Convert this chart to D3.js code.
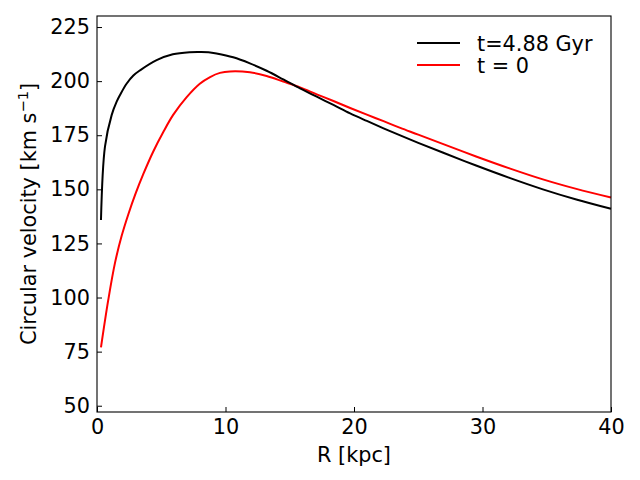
<!DOCTYPE html>
<html>
<head>
<meta charset="utf-8">
<script src="https://cdn.jsdelivr.net/npm/d3@7"></script>
<style>
  body { margin: 0; background: #fff; }
  text { font-family: "DejaVu Sans", sans-serif; fill: #000; }
</style>
</head>
<body>
<div id="chart"></div>
<script>
// Rotation curve (R in kpc, v in km/s)
const rNow = [0.31, 0.62, 1.14, 1.53, 1.79, 2.3, 2.83, 3.35, 4.64, 5.9, 7.2, 8.0, 8.67, 9.3, 10.6, 11.9, 13.2, 14.5, 15.8, 17.1, 18.4, 19.7, 21.0, 22.3, 23.6, 25.0, 26.9, 29.5, 32.1, 34.7, 37.3, 40];
const vNow = [135.8, 169.7, 184.3, 190.5, 193.6, 198.8, 202.6, 205, 209.7, 212.4, 213.4, 213.5, 213.4, 212.8, 211, 208.2, 204.8, 200.8, 196.7, 192.8, 189, 185.1, 181.6, 178.2, 174.9, 171.5, 167.0, 161.0, 155.3, 150.0, 145.3, 141];

const rInit = [0.31, 0.88, 1.4, 1.92, 2.44, 3.0, 3.6, 4.38, 5.16, 5.94, 6.98, 8.0, 8.8, 9.57, 10.35, 11.9, 13.2, 14.5, 15.8, 17.1, 18.4, 19.7, 21.0, 22.3, 23.6, 25.0, 26.9, 29.5, 32.1, 34.7, 37.3, 40];
const vInit = [77, 99, 116, 128.5, 138.5, 148, 157, 167.5, 176.5, 184.5, 192.6, 198.8, 201.9, 203.8, 204.5, 204.1, 202.4, 199.8, 197.1, 193.9, 190.8, 187.6, 184.5, 181.5, 178.4, 175.3, 171.0, 165.2, 159.7, 154.6, 150.2, 146.2];

const xTicks = [0, 10, 20, 30, 40];
const yTicks = [50, 75, 100, 125, 150, 175, 200, 225];
const legendLabels = ['t=4.88 Gyr', 't = 0'];

const width = 640, height = 480;
const margin = { left: 97, right: 29, top: 16, bottom: 68 };
const fontSize = '20.8px';

const svg = d3.select('#chart').append('svg')
  .attr('width', width)
  .attr('height', height);

const x = d3.scaleLinear().domain([0, 40]).range([margin.left, width - margin.right]);
const y = d3.scaleLinear().domain([47.1, 230.1]).range([height - margin.bottom, margin.top]);

// Axes with inward ticks
const xMinor = d3.range(0, 40.01, 2).filter(d => d % 10 !== 0);
const yMinor = d3.range(50, 230, 5).filter(d => d % 25 !== 0);

const gx = svg.append('g').attr('transform', 'translate(0,' + (height - margin.bottom) + ')');
gx.call(d3.axisBottom(x).tickValues(xMinor).tickSize(-3).tickFormat(''));
gx.call(d3.axisBottom(x).tickValues(xTicks).tickSize(-5).tickPadding(7).tickFormat(d3.format('d')));
gx.select('.domain').remove();
gx.selectAll('line').attr('stroke-width', 1);
gx.selectAll('text').style('font-size', fontSize).attr('dy', '0.71em');

const gy = svg.append('g').attr('transform', 'translate(' + margin.left + ',0)');
gy.call(d3.axisLeft(y).tickValues(yMinor).tickSize(-3).tickFormat(''));
gy.call(d3.axisLeft(y).tickValues(yTicks).tickSize(-5).tickPadding(7).tickFormat(d3.format('d')));
gy.select('.domain').remove();
gy.selectAll('line').attr('stroke-width', 1);
gy.selectAll('text').style('font-size', fontSize);

// Curves
const line = d3.line().x(d => x(d[0])).y(d => y(d[1])).curve(d3.curveCatmullRom.alpha(0.5));

svg.append('path')
  .datum(d3.zip(rInit, vInit))
  .attr('fill', 'none')
  .attr('stroke', '#ff0000')
  .attr('stroke-width', 2)
  .attr('d', line);

svg.append('path')
  .datum(d3.zip(rNow, vNow))
  .attr('fill', 'none')
  .attr('stroke', '#000')
  .attr('stroke-width', 2)
  .attr('d', line);

// Frame
svg.append('rect')
  .attr('x', margin.left)
  .attr('y', margin.top)
  .attr('width', width - margin.left - margin.right)
  .attr('height', height - margin.top - margin.bottom)
  .attr('fill', 'none')
  .attr('stroke', '#000')
  .attr('stroke-width', 1.1);

// Axis labels
svg.append('text')
  .attr('x', x(20))
  .attr('y', 462)
  .attr('text-anchor', 'middle')
  .style('font-size', fontSize)
  .text('R [kpc]');

const yl = svg.append('text')
  .attr('transform', 'translate(36,' + ((margin.top + height - margin.bottom) / 2) + ') rotate(-90)')
  .attr('text-anchor', 'middle')
  .style('font-size', fontSize);
yl.append('tspan').text('Circular velocity [km s');
yl.append('tspan').attr('dy', -8).style('font-size', '14.6px').text('\u22121');
yl.append('tspan').attr('dy', 8).text(']');

// Legend
const legendColors = ['#000', '#ff0000'];
legendLabels.forEach(function(lbl, i) {
  const ly = 43 + i * 22;
  svg.append('line')
    .attr('x1', 417).attr('x2', 460)
    .attr('y1', ly).attr('y2', ly)
    .attr('stroke', legendColors[i])
    .attr('stroke-width', 2);
  svg.append('text')
    .attr('x', 477)
    .attr('y', ly + 8)
    .style('font-size', fontSize)
    .text(lbl);
});
</script>
</body>
</html>
